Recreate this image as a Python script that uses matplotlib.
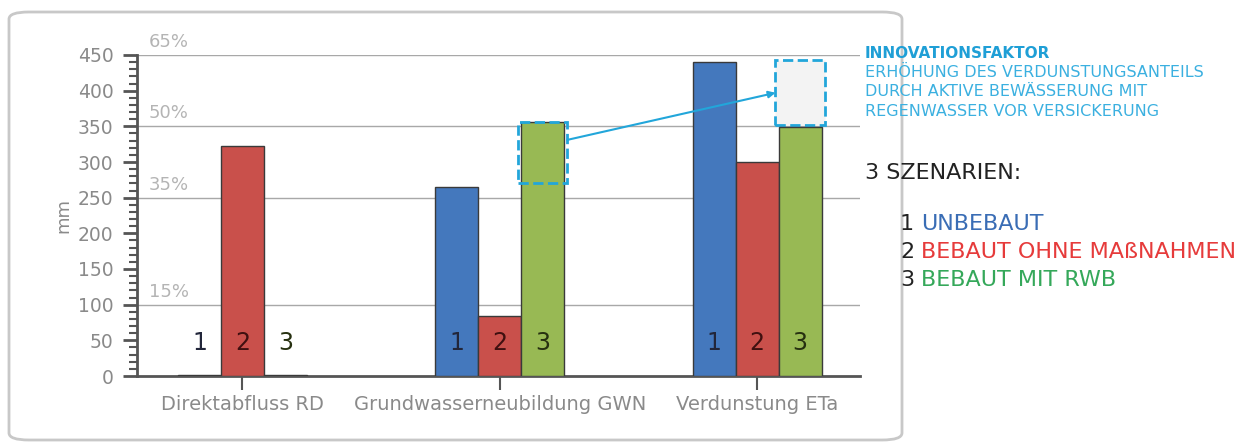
import matplotlib.pyplot as plt
import numpy as np
from matplotlib.patches import FancyBboxPatch, Rectangle

# Values (mm)
categories = ["Direktabfluss RD", "Grundwasserneubildung GWN", "Verdunstung ETa"]
unbebaut = [1, 265, 440]
bebaut_ohne = [322, 84, 300]
bebaut_rwb = [1, 356, 349]
scenario_labels = ["1", "2", "3"]
grid_levels = [100, 250, 350, 450]
grid_pct = ["15%", "35%", "50%", "65%"]
# dashed "innovation" boxes: (category index, bottom, top)
innov_boxes = [(1, 270, 356), (2, 352, 443)]

W, H = 1239, 443
fig = plt.figure(figsize=(W / 100, H / 100), dpi=100)
fig.patch.set_facecolor("white")

# rounded frame around the chart
frame = FancyBboxPatch((9 / W, 3 / H), 893 / W, 428 / H,
                       boxstyle="round,pad=0,rounding_size=0.016",
                       transform=fig.transFigure, facecolor="none",
                       edgecolor="#C8C8C8", linewidth=2, zorder=0)
fig.patches.append(frame)

ax = fig.add_axes([137 / W, 1 - 376 / H, (860 - 137) / W, (376 - 55) / H])

c_blue, c_red, c_green = "#4478BD", "#C9504B", "#98B954"
x = np.arange(len(categories))
bw = 0.167
series = [unbebaut, bebaut_ohne, bebaut_rwb]
colors = [c_blue, c_red, c_green]
for i, (vals, col) in enumerate(zip(series, colors)):
    ax.bar(x + (i - 1) * bw, vals, width=bw, color=col,
           edgecolor="#3A3A3A", linewidth=1, zorder=3)

# scenario numbers inside the bars
num_colors = ["#22263A", "#401010", "#263010"]
for xi in x:
    for i, lab in enumerate(scenario_labels):
        ax.text(xi + (i - 1) * bw, 46, lab, ha="center", va="center",
                fontsize=17, color=num_colors[i], zorder=5)

# gridlines with percent labels
for lvl, pct in zip(grid_levels, grid_pct):
    ax.axhline(lvl, color="#A8A8A8", linewidth=1, zorder=1)
    ax.text(-0.365, lvl + 18, pct, fontsize=13, color="#B4B4B4",
            ha="left", va="center")

# innovation boxes and arrow
cyan = "#22A6DA"
for ci, lo, hi in innov_boxes:
    fill = "none" if ci == 1 else "#F3F3F3"
    ax.add_patch(Rectangle((ci + bw / 2 - 0.012, lo), bw + 0.024, hi - lo,
                           facecolor=fill, edgecolor=cyan, linestyle="--",
                           linewidth=2, zorder=4 if ci == 1 else 2))
ax.annotate("", xy=(2 + bw / 2 - 0.012, 397), xytext=(1 + 1.5 * bw + 0.012, 331),
            arrowprops=dict(arrowstyle="-|>", color=cyan, lw=1.5,
                            mutation_scale=10, shrinkA=0, shrinkB=0), zorder=6)

ax.set_xlim(-0.41, 2.40)
ax.set_ylim(0, 450)
ax.set_xticks(x)
ax.set_xticklabels(categories, fontsize=14, color="#8A8A8A")
ax.set_yticks(np.arange(0, 451, 50))
ax.set_yticks(np.arange(0, 451, 10), minor=True)
ax.tick_params(axis="y", which="major", length=10, width=2,
               color="#555555", labelsize=13.5, labelcolor="#8A8A8A", pad=7)
ax.tick_params(axis="y", which="minor", length=6, width=1.5, color="#555555")
ax.tick_params(axis="x", length=10, width=1.5, color="#555555", pad=4)
ax.set_ylabel("mm", fontsize=13, color="#8A8A8A", labelpad=4)
for s in ["top", "right"]:
    ax.spines[s].set_visible(False)
for s in ["left", "bottom"]:
    ax.spines[s].set_color("#555555")
    ax.spines[s].set_linewidth(2)

# annotation text on the right
fx = 865 / W
fig.text(fx, 1 - 53 / H, "INNOVATIONSFAKTOR", fontsize=11, fontweight="bold",
         color="#1F9FD6", va="center")
for k, line in enumerate(["ERHÖHUNG DES VERDUNSTUNGSANTEILS",
                          "DURCH AKTIVE BEWÄSSERUNG MIT",
                          "REGENWASSER VOR VERSICKERUNG"]):
    fig.text(fx, 1 - (72 + 20 * k) / H, line, fontsize=11.5, color="#3BB0E0",
             va="center")

fig.text(fx, 1 - 173 / H, "3 SZENARIEN:", fontsize=16, color="#222222",
         va="center")
legend_names = ["UNBEBAUT", "BEBAUT OHNE MAßNAHMEN", "BEBAUT MIT RWB"]
legend_colors = ["#3A6DB5", "#E63B3B", "#35A85A"]
for k, (num, name, col) in enumerate(zip(scenario_labels, legend_names, legend_colors)):
    yy = 1 - (224 + 28 * k) / H
    fig.text(900 / W, yy, num, fontsize=16, color="#222222", va="center")
    fig.text(921 / W, yy, name, fontsize=16, color=col, va="center")

fig.savefig("out.png", dpi=100, facecolor="white")
